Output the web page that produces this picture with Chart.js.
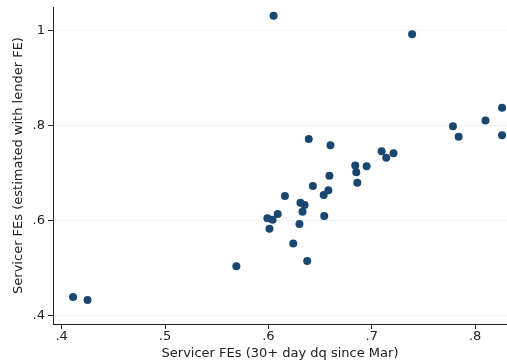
<!DOCTYPE html>
<html>
<head>
<meta charset="utf-8">
<script src="https://cdn.jsdelivr.net/npm/chart.js@4/dist/chart.umd.min.js"></script>
<style>
  html, body { margin: 0; padding: 0; background: #fff; }
  #wrap { width: 507px; height: 362px; position: relative; }
</style>
</head>
<body>
<div id="wrap"><canvas id="c"></canvas></div>
<script>
// Servicer fixed effects: 30+ day delinquency (x) vs. estimate with lender FE (y)
const fe30Day = [
  0.411, 0.425, 0.569, 0.605, 0.739,
  0.7785, 0.784, 0.810, 0.826, 0.826,
  0.639, 0.660, 0.659, 0.684, 0.685, 0.695, 0.7095, 0.714, 0.721,
  0.686, 0.643, 0.658, 0.6535, 0.616, 0.631, 0.635, 0.633, 0.609,
  0.599, 0.604, 0.654, 0.601, 0.630, 0.624, 0.6375
];
const feLender = [
  0.439, 0.433, 0.504, 1.032, 0.993,
  0.799, 0.777, 0.811, 0.838, 0.780,
  0.772, 0.759, 0.6945, 0.7165, 0.702, 0.715, 0.7466, 0.7325, 0.742,
  0.680, 0.673, 0.664, 0.654, 0.652, 0.638, 0.633, 0.619, 0.614,
  0.605, 0.602, 0.610, 0.583, 0.593, 0.552, 0.515
];
const xTicks = [0.4, 0.5, 0.6, 0.7, 0.8];
const yTicks = [0.4, 0.6, 0.8, 1.0];

const xTitle = 'Servicer FEs (30+ day dq since Mar)';
const yTitle = 'Servicer FEs (estimated with lender FE)';

const points = fe30Day.map((x, i) => ({ x: x, y: feLender[i] }));

// Stata-style labels: ".4", ".6", "1"
function stataLabel(v) {
  const r = Math.round(v * 10) / 10;
  if (r === 1) return '1';
  return String(r).replace(/^0/, '');
}

const FONT = "'DejaVu Sans', sans-serif";
const INK = '#222222';

new Chart(document.getElementById('c'), {
  type: 'scatter',
  data: {
    datasets: [{
      data: points,
      backgroundColor: '#1a476f',
      borderWidth: 0,
      pointRadius: 4,
      pointHoverRadius: 4
    }]
  },
  options: {
    responsive: true,
    maintainAspectRatio: false,
    animation: false,
    events: [],
    layout: { autoPadding: false, padding: { top: 7, right: 0, left: 0, bottom: 0 } },
    plugins: { legend: { display: false }, tooltip: { enabled: false } },
    scales: {
      x: {
        type: 'linear',
        min: 0.3916,
        max: 0.8308,
        afterBuildTicks: s => { s.ticks = xTicks.map(v => ({ value: v })); },
        afterFit: s => { s.height = 38; s.paddingLeft = 0; s.paddingRight = 0; },
        ticks: {
          color: INK,
          font: { family: FONT, size: 13 },
          padding: 0,
          maxRotation: 0,
          callback: v => stataLabel(v)
        },
        grid: {
          drawOnChartArea: false,
          drawTicks: true,
          tickLength: 5,
          tickColor: INK
        },
        border: { display: true, color: INK, width: 1 },
        title: {
          display: true,
          text: xTitle,
          color: INK,
          font: { family: FONT, size: 13 },
          padding: { top: 0, bottom: 1 }
        }
      },
      y: {
        type: 'linear',
        min: 0.3823,
        max: 1.0504,
        afterBuildTicks: s => { s.ticks = yTicks.map(v => ({ value: v })); },
        afterFit: s => { s.width = 53; s.paddingTop = 0; s.paddingBottom = 0; },
        ticks: {
          color: INK,
          font: { family: FONT, size: 13 },
          padding: 3,
          callback: v => stataLabel(v)
        },
        grid: {
          drawOnChartArea: true,
          drawTicks: true,
          tickLength: 5,
          color: '#eaf2f3',
          tickColor: INK,
          lineWidth: 1
        },
        border: { display: true, color: INK, width: 1 },
        title: {
          display: true,
          text: yTitle,
          color: INK,
          font: { family: FONT, size: 13 },
          padding: { top: 11, bottom: 0 }
        }
      }
    }
  }
});
</script>
</body>
</html>
